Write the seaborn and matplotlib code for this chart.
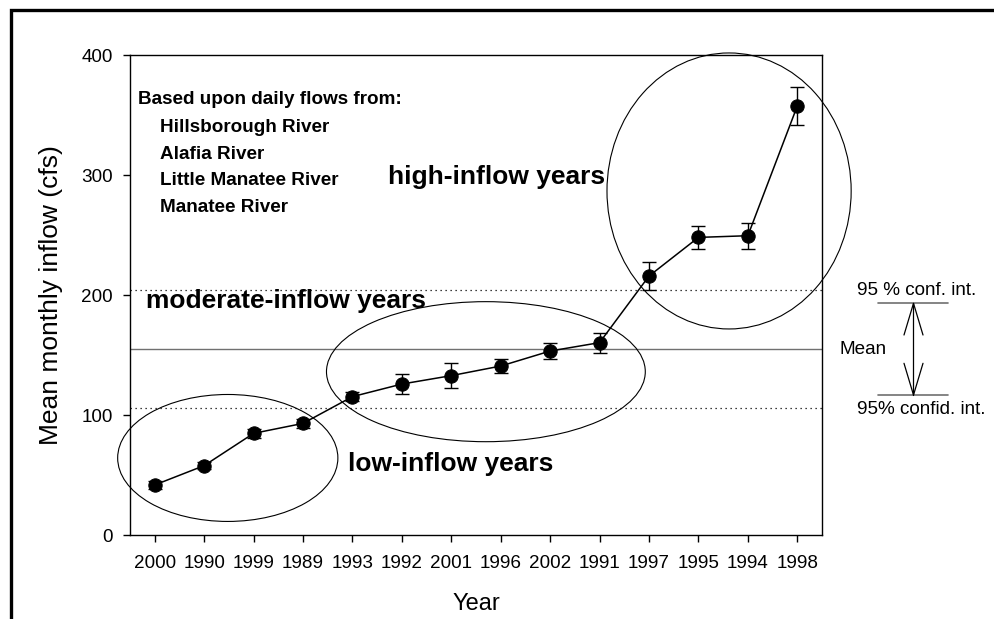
import numpy as np
import seaborn as sns
import matplotlib.pyplot as plt
from matplotlib.patches import Ellipse, Rectangle

# values
years = ['2000', '1990', '1999', '1989', '1993', '1992', '2001',
         '1996', '2002', '1991', '1997', '1995', '1994', '1998']
inflow = [41.7, 57.8, 84.7, 93.0, 115.3, 125.8, 132.8,
          140.8, 153.3, 160.3, 215.8, 248.0, 249.4, 357.5]
ci = [3.0, 3.0, 3.5, 3.5, 3.6, 8.3, 10.2,
      5.8, 6.5, 8.3, 11.8, 9.7, 10.8, 15.8]
mean_all = 154.7
ci_low = 105.5
ci_high = 204.0
rivers = ['Hillsborough River', 'Alafia River', 'Little Manatee River', 'Manatee River']

W, H = 995, 619

sns.set_style('ticks')
plt.rcParams['font.family'] = ['Liberation Sans', 'DejaVu Sans']
plt.rcParams['text.color'] = 'black'
plt.rcParams['axes.labelcolor'] = 'black'

fig = plt.figure(figsize=(W / 100, H / 100), dpi=100)
ax = fig.add_axes([130 / W, (H - 535) / H, (822 - 130) / W, (535 - 55) / H])


def px(x, y):
    # pixel position -> figure fraction
    return x / W, 1 - y / H


xs = np.arange(len(years))

# reference lines
ax.axhline(mean_all, color='#707070', lw=1.0, zorder=1)
ax.axhline(ci_low, color='black', lw=0.9, ls=(0, (1, 3)), zorder=1)
ax.axhline(ci_high, color='black', lw=0.9, ls=(0, (1, 3)), zorder=1)

ax.errorbar(xs, inflow, yerr=ci, fmt='none', ecolor='black', elinewidth=1,
            capsize=5.3, capthick=1, zorder=2)
sns.lineplot(x=xs, y=inflow, ax=ax, color='black', lw=1.1, marker='o',
             markersize=9.6, markeredgecolor='black', markerfacecolor='black',
             zorder=3)

# grouping ellipses
for cx, cy, w, h in [(1.478, 64.2, 4.455, 105.8),
                     (6.70, 136.1, 6.45, 116.7),
                     (11.62, 286.7, 4.94, 230.0)]:
    ax.add_patch(Ellipse((cx, cy), w, h, fill=False, ec='black', lw=0.8,
                         clip_on=False, zorder=2))

ax.set_xlim(-0.5, 13.5)
ax.set_ylim(0, 400)
ax.set_xticks(xs)
ax.set_xticklabels(years)
ax.set_yticks([0, 100, 200, 300, 400])
ax.tick_params(axis='both', labelsize=13.6, length=5, width=1, color='black',
               labelcolor='black')
ax.tick_params(axis='x', pad=9.5)
ax.tick_params(axis='y', pad=7.5)
for s in ax.spines.values():
    s.set_color('black')
    s.set_linewidth(1)
ax.set_xlabel('Year', fontsize=17, labelpad=15)
ax.set_ylabel('Mean monthly inflow (cfs)', fontsize=19, labelpad=13)

# annotations inside the plot
ax.text(-0.344, 362.5, 'Based upon daily flows from:', fontsize=13.6,
        fontweight='bold', va='center', ha='left')
for yv, name in zip([339.75, 317.25, 295.6, 273.1], rivers):
    ax.text(0.101, yv, name, fontsize=13.6, fontweight='bold', va='center', ha='left')
ax.text(4.71, 298.6, 'high-inflow years', fontsize=19, fontweight='bold', va='center')
ax.text(-0.168, 195, 'moderate-inflow years', fontsize=19, fontweight='bold', va='center')
ax.text(3.91, 59.2, 'low-inflow years', fontsize=19, fontweight='bold', va='center')

# key on the right
fig.add_artist(plt.Line2D(*zip(px(878, 303.3), px(948, 303.3)), color='#707070', lw=1.2))
fig.add_artist(plt.Line2D(*zip(px(878, 395), px(948, 395)), color='#707070', lw=1.2))
fig.add_artist(plt.Line2D(*zip(px(913.5, 303.3), px(913.5, 395)), color='black', lw=0.9))
for tip, back in [(303.3, 335), (395, 363.3)]:
    fig.add_artist(plt.Line2D(*zip(px(904, back), px(913.5, tip), px(923, back)),
                              color='black', lw=0.9))
fig.text(*px(916.7, 290.7), '95 % conf. int.', fontsize=13.6, ha='center', va='center')
fig.text(*px(840, 350), 'Mean', fontsize=13.6, ha='left', va='center')
fig.text(*px(921.7, 410), '95% confid. int.', fontsize=13.6, ha='center', va='center')

# outer frame, cropped on the right and bottom
fig.patches.append(Rectangle(px(10.7, 700), 1.2, (700 - 10.2) / H,
                             transform=fig.transFigure, fill=False,
                             ec='black', lw=2.4))

fig.savefig('out.png', dpi=100)
